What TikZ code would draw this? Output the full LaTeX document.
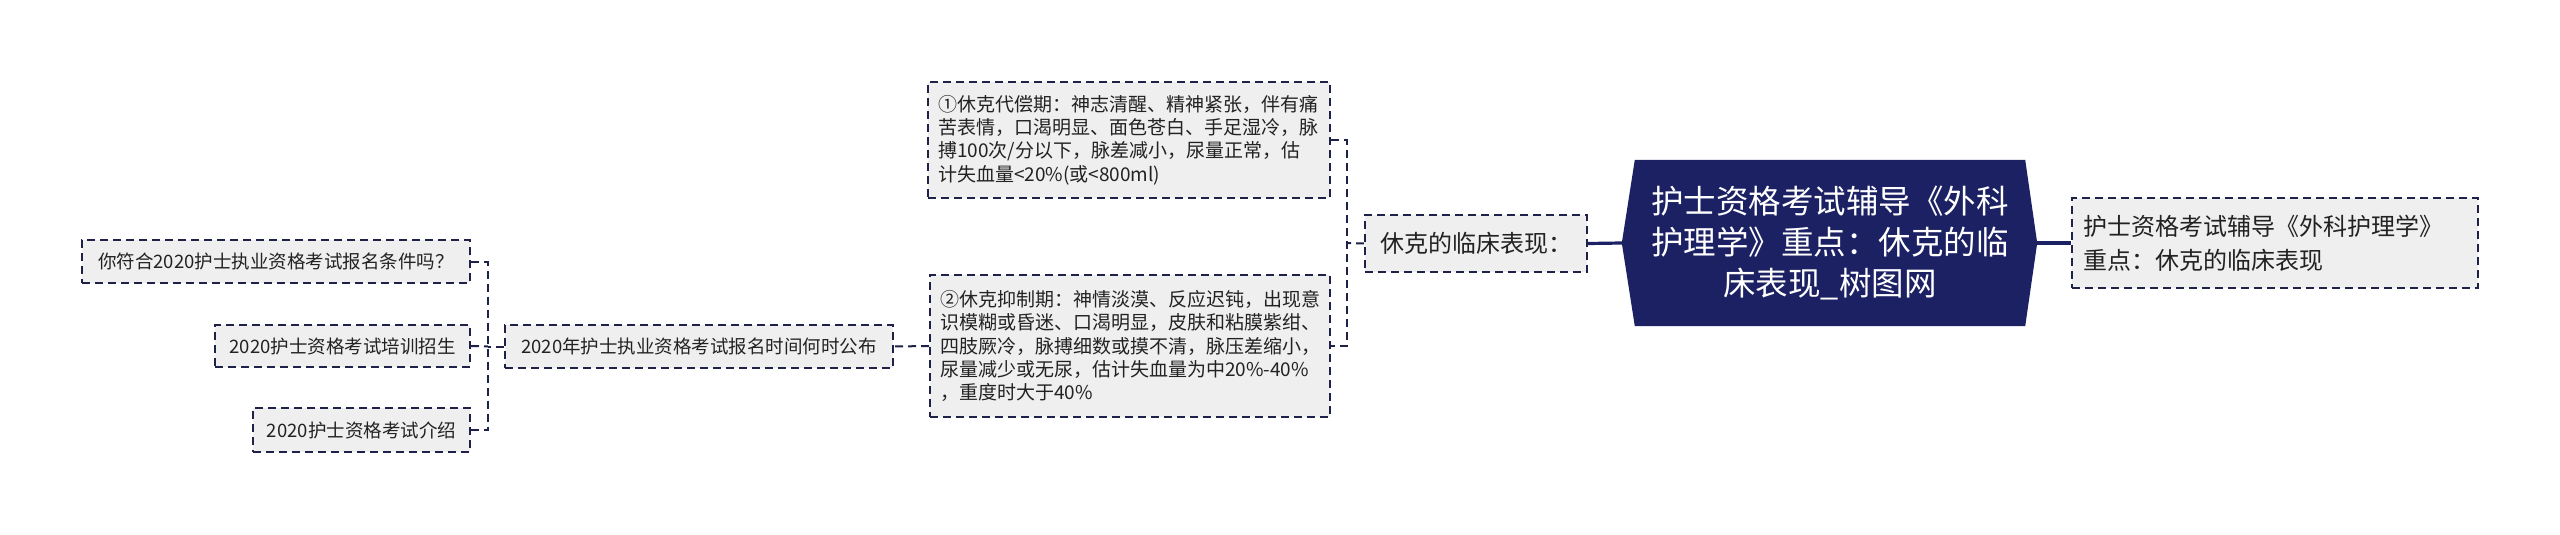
\documentclass[tikz,border=0pt]{standalone}
\usepackage{fontspec}
\setmainfont{Noto Sans CJK SC}
\usetikzlibrary{backgrounds}
\definecolor{navy}{RGB}{28,33,99}
\definecolor{lineblue}{RGB}{30,33,72}
\definecolor{boxgray}{RGB}{239,239,239}
\definecolor{txt}{RGB}{34,34,34}
\tikzset{
  box/.style={draw=lineblue, line width=2pt, dash pattern=on 8pt off 5pt,
    fill=boxgray, text=txt, inner sep=0pt},
  smallbox/.style={box, font=\fontsize{18.5}{22}\selectfont, minimum height=43pt},
  parabox/.style={box, font=\fontsize{19}{23.4}\selectfont, align=left, inner xsep=10pt},
  rootnode/.style={text=white, align=center, inner sep=0pt,
    font=\fontsize{32.5}{41}\selectfont, minimum width=390pt, minimum height=166pt},
  dconn/.style={draw=lineblue, line width=2pt, dash pattern=on 8pt off 5pt},
  sconn/.style={draw=navy, line width=3.2pt}
}
\begin{document}
\begin{tikzpicture}[x=1pt,y=-1pt]
\useasboundingbox (0,0) rectangle (2560,535);
\begin{scope}[on background layer]
  \fill[white] (0,0) rectangle (2560,535);
\end{scope}

% root
\node[rootnode] (root) at (1830,243) {护士资格考试辅导《外科\\护理学》重点：休克的临\\床表现\_树图网};
\coordinate (rootL) at ([xshift=-13pt]root.west);
\coordinate (rootR) at ([xshift=12pt]root.east);
\begin{scope}[on background layer]
  \fill[navy] (root.north west) -- (root.north east) -- (rootR) -- (root.south east)
    -- (root.south west) -- (rootL) -- cycle;
\end{scope}

% right
\node[box, font=\fontsize{24}{34}\selectfont, align=left, text width=384pt,
  inner xsep=11pt, minimum height=90pt] (rt) at (2275,243)
  {护士资格考试辅导《外科护理学》\\重点：休克的临床表现};

% left main child
\node[box, font=\fontsize{24}{30}\selectfont, minimum width=222pt, minimum height=57pt]
  (xk) at (1476,243.5) {休克的临床表现：};

% paragraphs
\node[parabox, text width=382pt, minimum height=116pt] (b1) at (1129,140)
  {①休克代偿期：神志清醒、精神紧张，伴有痛\\
   苦表情，口渴明显、面色苍白、手足湿冷，脉\\
   搏100次/分以下，脉差减小，尿量正常，估\\
   计失血量<20\%(或<800ml)};
\node[parabox, text width=380pt, minimum height=142pt] (b2) at (1130,346)
  {②休克抑制期：神情淡漠、反应迟钝，出现意\\
   识模糊或昏迷、口渴明显，皮肤和粘膜紫绀、\\
   四肢厥冷，脉搏细数或摸不清，脉压差缩小，\\
   尿量减少或无尿，估计失血量为中20\%-40\%\\
   ，重度时大于40\%};

% far left
\node[smallbox, minimum width=388pt] (gb) at (699,346.5) {2020年护士执业资格考试报名时间何时公布};
\node[smallbox, minimum width=388pt] (l1) at (276,261.5) {你符合2020护士执业资格考试报名条件吗？};
\node[smallbox, minimum width=255pt, minimum height=42pt] (l2) at (342.5,346) {2020护士资格考试培训招生};
\node[smallbox, minimum width=217pt, minimum height=44pt] (l3) at (361.5,430) {2020护士资格考试介绍};

% connectors
\draw[sconn] (xk.east) -- (rootL);
\draw[sconn] (rootR) -- (rt.west);

\coordinate (j1) at (1347,243);
\draw[dconn] (xk.west) -- (j1);
\draw[dconn] (b1.east) -| (j1) |- (b2.east);

\draw[dconn] (b2.west) -- (gb.east);

\coordinate (j2) at (488,346.5);
\draw[dconn] (gb.west) -- (j2);
\draw[dconn] (l1.east) -| (j2) |- (l3.east);
\draw[dconn] (l2.east) -- (j2);
\end{tikzpicture}
\end{document}
